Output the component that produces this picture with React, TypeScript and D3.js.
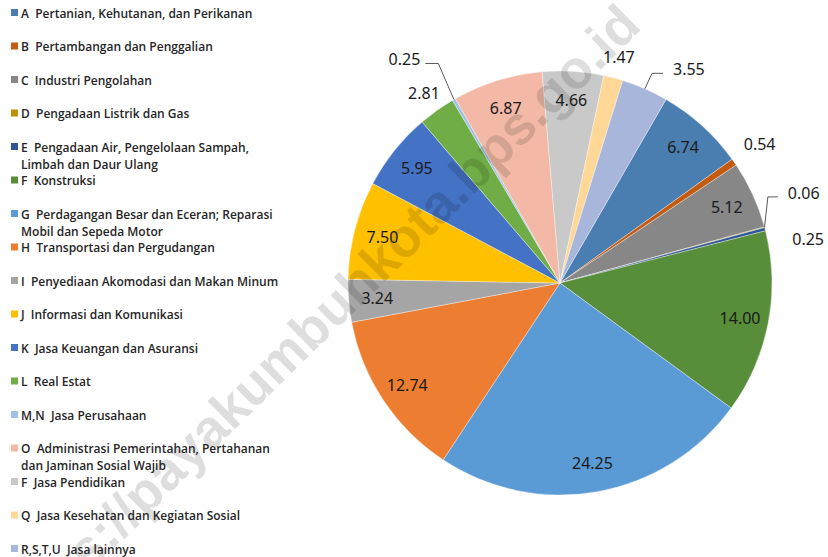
import React from "react";
import * as d3 from "d3";

const categories: string[] = [
  "A  Pertanian, Kehutanan, dan Perikanan",
  "B  Pertambangan dan Penggalian",
  "C  Industri Pengolahan",
  "D  Pengadaan Listrik dan Gas",
  "E  Pengadaan Air, Pengelolaan Sampah,\nLimbah dan Daur Ulang",
  "F  Konstruksi",
  "G  Perdagangan Besar dan Eceran; Reparasi\nMobil dan Sepeda Motor",
  "H  Transportasi dan Pergudangan",
  "I  Penyediaan Akomodasi dan Makan Minum",
  "J  Informasi dan Komunikasi",
  "K  Jasa Keuangan dan Asuransi",
  "L  Real Estat",
  "M,N  Jasa Perusahaan",
  "O  Administrasi Pemerintahan, Pertahanan\ndan Jaminan Sosial Wajib",
  "F  Jasa Pendidikan",
  "Q  Jasa Kesehatan dan Kegiatan Sosial",
  "R,S,T,U  Jasa lainnya",
];

const values: number[] = [
  6.74, 0.54, 5.12, 0.06, 0.25, 14.0, 24.25, 12.74, 3.24, 7.5, 5.95, 2.81, 0.25,
  6.87, 4.66, 1.47, 3.55,
];

const colors: string[] = [
  "#4A7EB0", "#C55A11", "#878787", "#BF9000", "#2F5597", "#588E3A",
  "#5B9BD5", "#ED7D31", "#A5A5A5", "#FFC000", "#4472C4", "#70AD47",
  "#9DC3E6", "#F3B9A6", "#C9C9C9", "#FFD796", "#A8B6DB",
];

const watermark = "https://payakumbuhkota.bps.go.id";

// label layout (polar: degrees clockwise from 12 o'clock, radius in px)
type Place =
  | { mode: "in" }
  | { mode: "out"; r: number; angle?: number }
  | { mode: "leader"; elbowR: number; elbowAngle: number; run: number };

const placement: Record<number, Place> = {
  1: { mode: "out", r: 243 },
  3: { mode: "leader", elbowR: 225, elbowAngle: 67.5, run: 10 },
  4: { mode: "out", r: 252, angle: 80 },
  11: { mode: "out", r: 234 },
  12: { mode: "leader", elbowR: 251, elbowAngle: 331, run: -13 },
  15: { mode: "out", r: 234 },
  16: { mode: "leader", elbowR: 229, elbowAngle: 23.7, run: 11 },
};

const W = 828;
const H = 557;
const cx = 560;
const cy = 283;
const R = 212;
const deg = Math.PI / 180;

function polar(angleDeg: number, r: number): [number, number] {
  return [cx + r * Math.sin(angleDeg * deg), cy - r * Math.cos(angleDeg * deg)];
}

export default function App() {
  const start = 30 * deg;
  const pie = d3
    .pie<number>()
    .sort(null)
    .startAngle(start)
    .endAngle(start + 2 * Math.PI);
  const arcs = pie(values);
  const arcGen = d3.arc<d3.PieArcDatum<number>>().innerRadius(0).outerRadius(R);

  const labelFont = "'Noto Sans', 'DejaVu Sans', sans-serif";
  const legendFont = "'Open Sans', 'Noto Sans', sans-serif";

  return (
    <svg
      width={W}
      height={H}
      style={{ position: "absolute", left: 0, top: 0, background: "#fff" }}
    >
      <rect x={0} y={0} width={W} height={H} fill="#fff" />
      <g>
        {arcs.map((a, i) => (
          <path
            key={i}
            d={arcGen(a) || ""}
            transform={`translate(${cx},${cy})`}
            fill={colors[i]}
            stroke="#ffffff"
            strokeOpacity={0.6}
            strokeWidth={0.6}
          />
        ))}
      </g>

      <text
        transform={`translate(643,28) rotate(-44.5)`}
        textAnchor="end"
        fontFamily="'Liberation Sans', Arial, sans-serif"
        fontWeight="bold"
        fontSize={54}
        fill="#000"
        fillOpacity={0.13}
      >
        {watermark}
      </text>

      <g fontFamily={labelFont} fontSize={16} fill="#1a1a1a">
        {arcs.map((a, i) => {
          const mid = ((a.startAngle + a.endAngle) / 2) / deg;
          const p = placement[i];
          const txt = values[i].toFixed(2);
          if (!p || p.mode === "in") {
            const [x, y] = polar(mid, R * 0.865);
            return (
              <text key={i} x={x} y={y} textAnchor="middle" dominantBaseline="central">
                {txt}
              </text>
            );
          }
          if (p.mode === "out") {
            const [x, y] = polar(p.angle ?? mid, p.r);
            return (
              <text key={i} x={x} y={y} textAnchor="middle" dominantBaseline="central">
                {txt}
              </text>
            );
          }
          const [x0, y0] = polar(mid, R);
          const [x1, y1] = polar(p.elbowAngle, p.elbowR);
          const x2 = x1 + p.run;
          const right = p.run > 0;
          const lx = x2 + (right ? 10 : -5);
          return (
            <g key={i}>
              <polyline
                points={`${x0},${y0} ${x1},${y1} ${x2},${y1}`}
                fill="none"
                stroke="#595959"
                strokeWidth={1}
              />
              <text
                x={lx}
                y={y1 - 4}
                textAnchor={right ? "start" : "end"}
                dominantBaseline="central"
              >
                {txt}
              </text>
            </g>
          );
        })}
      </g>

      <g fontFamily={legendFont} fontSize={12} fontWeight={600} fill="#262626">
        {categories.map((c, i) => {
          const y = 13 + i * 33.5;
          const lines = c.split("\n");
          return (
            <g key={i}>
              <rect x={11} y={y - 4} width={7} height={7} fill={colors[i]} />
              {lines.map((ln, j) => (
                <text
                  key={j}
                  x={21}
                  y={y + j * 17}
                  dominantBaseline="central"
                  style={{ whiteSpace: "pre" }}
                >
                  {ln}
                </text>
              ))}
            </g>
          );
        })}
      </g>
    </svg>
  );
}
